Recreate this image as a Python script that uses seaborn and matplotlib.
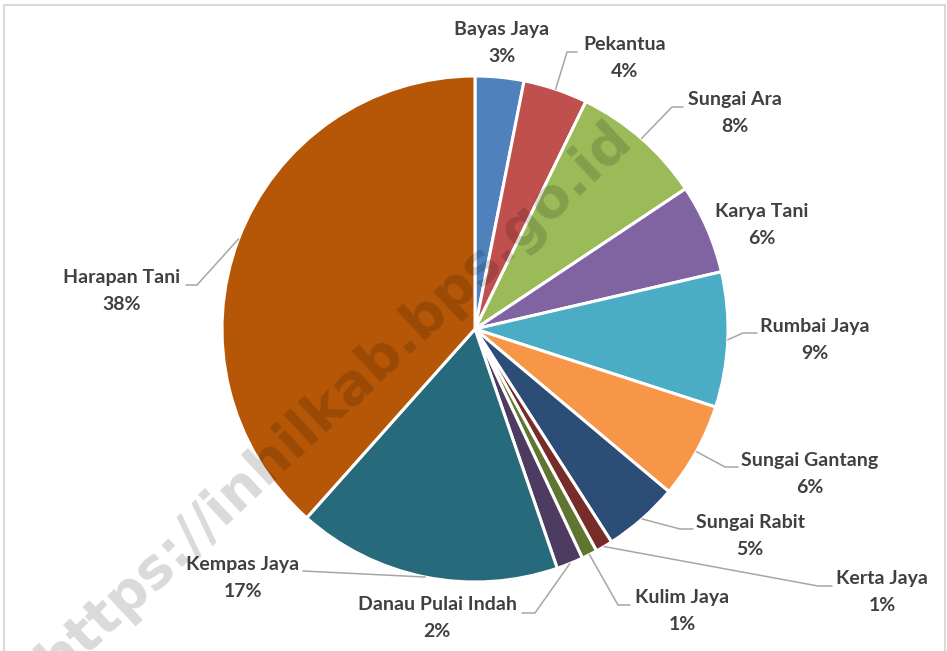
import numpy as np
import matplotlib
matplotlib.use("Agg")
import matplotlib.pyplot as plt
import seaborn as sns
from matplotlib.patches import Rectangle

# village shares (percent), clockwise from 12 o'clock
villages = ["Bayas Jaya", "Pekantua", "Sungai Ara", "Karya Tani", "Rumbai Jaya",
            "Sungai Gantang", "Sungai Rabit", "Kerta Jaya", "Kulim Jaya",
            "Danau Pulai Indah", "Kempas Jaya", "Harapan Tani"]
shares = [3.1, 4.1, 8.4, 5.7, 8.6, 6.1, 4.8, 1.1, 1.0, 1.7, 16.8, 38.3]
colors = ["#4F81BD", "#C0504D", "#9BBB59", "#8064A2", "#4BACC6", "#F79646",
          "#2C4D75", "#772C2A", "#5F7530", "#4D3B62", "#276A7C", "#B65708"]

# label layout in pixel coords (x, y from top): text centre, then leader elbow points
label_pos = [(502, 43), (625, 58), (735, 113), (762, 225), (815, 340), (810, 474),
             (750, 536), (882, 592), (682, 611), (437, 618), (243, 578), (122, 291)]
leaders = [None,
           [(567, 52), (577, 52)],
           [(672, 107), (683, 107)],
           None,
           [(743, 333), (757, 333)],
           [(725, 467), (738, 467)],
           [(680, 529), (693, 529)],
           [(818, 586), (832, 586)],
           [(618, 605), (630, 605)],
           [(535, 613), (522, 613)],
           [(303, 571)],
           [(197, 285), (186, 285)]]

W, H = 947, 651
CX, CY, R = 475, 329, 253

sns.set_theme(style="white")
plt.rcParams['font.family'] = ['Lato', 'DejaVu Sans']

fig = plt.figure(figsize=(W / 100, H / 100), dpi=100)
ax = fig.add_axes([0, 0, 1, 1])

palette = sns.color_palette(colors)
wedges, _ = ax.pie(shares, colors=palette, startangle=90, counterclock=False,
                   center=(CX, H - CY), radius=R,
                   wedgeprops=dict(edgecolor="white", linewidth=2.2))

total = sum(shares)
txt_color = "#404040"
for w, name, val, pos, lead in zip(wedges, villages, shares, label_pos, leaders):
    ax.text(pos[0], H - pos[1], f"{name}\n{round(val / total * 100):.0f}%",
            ha="center", va="center", fontsize=14, fontweight="bold",
            color=txt_color, linespacing=1.65, zorder=6)
    if lead:
        mid = np.deg2rad((w.theta1 + w.theta2) / 2)
        pts = [(CX + R * np.cos(mid), H - CY + R * np.sin(mid))]
        pts += [(x, H - y) for x, y in lead]
        xs, ys = zip(*pts)
        ax.plot(xs, ys, color="#A6A6A6", lw=1.1, zorder=4)

# watermark
ax.text(335, H - 400, "https://inhilkab.bps.go.id", rotation=43,
        rotation_mode="anchor", ha="center", va="center", fontsize=40,
        fontweight="bold", family="DejaVu Sans", color="black", alpha=0.15,
        zorder=5)

ax.set_xlim(0, W)
ax.set_ylim(0, H)
ax.set_aspect("equal")
ax.axis("off")

fig.patches.append(Rectangle((4 / W, -0.1), 941 / W, 1.1 - 5 / H,
                             transform=fig.transFigure, fill=False,
                             edgecolor="#D9D9D9", lw=1.5))

fig.savefig("out.png", dpi=100)
